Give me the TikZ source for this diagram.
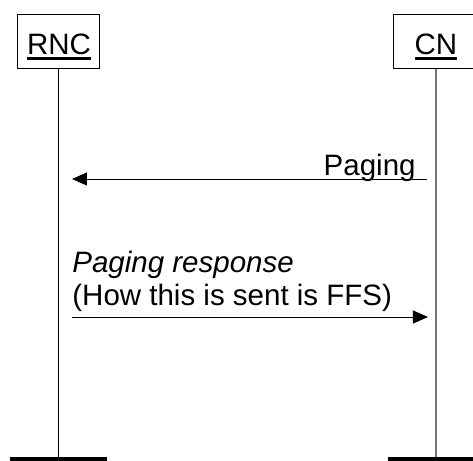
\documentclass[tikz,border=0pt]{standalone}
\usepackage{fontspec}
\setmainfont{Liberation Sans}
\usetikzlibrary{arrows.meta}
\newcommand{\entityname}[1]{\setbox0\hbox{#1}\rlap{\rule[-3pt]{\wd0}{1.4pt}}\box0}

\begin{document}
\begin{tikzpicture}[x=0.5pt, y=-0.5pt, font=\fontsize{14.75}{16.5}\selectfont,
    entity/.style={rectangle, draw, line width=0.5pt, minimum height=27pt, text height=14pt, text depth=1pt},
    msg/.style={line width=0.5pt, -{Triangle[length=7.5pt, width=6.5pt]}},
    endbar/.style={line width=2pt}]
  \useasboundingbox (0,0) rectangle (473,461);
  \clip (0,0) rectangle (473,461);
  \node (rnc) [entity, minimum width=41pt] at (59,41) {\entityname{RNC}};
  \node (cn) [entity, minimum width=42pt] at (436,41) {\entityname{CN}};
  \coordinate (rnc end) at (59,459);
  \coordinate (cn end) at (436,459);
  \draw[line width=0.5pt] (rnc) -- (rnc end);
  \draw[line width=0.75pt, black!55] (cn) -- (cn end);
  \draw[endbar] ([xshift=-24.5pt]rnc end) -- ([xshift=24pt]rnc end);
  \draw[endbar] ([xshift=-24pt]cn end) -- ([xshift=24pt]cn end);

  \coordinate (page from) at (427,179);
  \coordinate (page to) at (72,179);
  \node (paging) [anchor=base east, inner sep=0pt] at (416,175) {Paging};
  \draw[msg] (page from) -- (page to);

  \coordinate (resp from) at (72,317);
  \coordinate (resp to) at (428,317);
  \node (resp) [anchor=base west, inner sep=0pt] at (72,272) {\textit{Paging response}};
  \node (ffs) [anchor=base west, inner sep=0pt] at (72,305) {(How this is sent is FFS)};
  \draw[msg] (resp from) -- (resp to);
\end{tikzpicture}
\end{document}
